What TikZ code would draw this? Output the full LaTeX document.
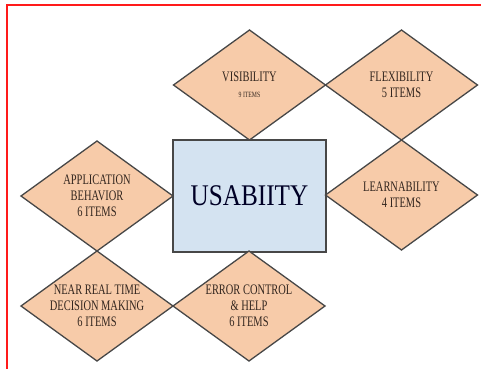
\documentclass[tikz,border=0pt]{standalone}
\usepackage{fontspec}
\setmainfont{Liberation Serif}[FakeStretch=0.72]
\newfontfamily\corefont{Liberation Serif}[FakeStretch=0.84]
\usepackage{tikz}
\usetikzlibrary{shapes.geometric}
\definecolor{peach}{HTML}{F7CBA9}
\definecolor{boxblue}{HTML}{D4E3F1}
\definecolor{edgegray}{HTML}{474747}
\definecolor{inkbrown}{HTML}{33261F}
\definecolor{framered}{HTML}{FF1A1A}
\tikzstyle{item}=[diamond, draw=edgegray, line width=1.3pt, fill=peach, aspect=1.38, minimum width=152pt, minimum height=110pt, inner sep=0pt, outer sep=0pt, align=center, text=inkbrown, font=\fontsize{14.5}{16}\selectfont]
\tikzstyle{core}=[rectangle, draw=edgegray, line width=2.5pt, fill=boxblue, minimum width=153pt, minimum height=112pt, outer sep=0pt, text=black!85!blue, font=\corefont\fontsize{30}{32}\selectfont]

\begin{document}
\begin{tikzpicture}[x=1pt,y=1pt]
\useasboundingbox (0,0) rectangle (481,-368);
\draw[framered, line width=1.3pt] (7,-5) rectangle (495,-385);

\node[core] (usab) at (249.5,-196) {USABIITY};

\node[item, anchor=south] (vis) at (usab.north) {VISIBILITY\\{\fontsize{8}{10}\selectfont 9 ITEMS}};
\node[item, anchor=west] (flex) at (vis.east) {FLEXIBILITY\\5 ITEMS};
\node[item, anchor=north] (learn) at (flex.south) {LEARNABILITY\\4 ITEMS};
\node[item, anchor=east] (app) at (usab.west) {APPLICATION\\BEHAVIOR\\6 ITEMS};
\node[item, anchor=north, inner xsep=-4pt] (near) at (app.south) {NEAR REAL TIME\\DECISION MAKING\\6 ITEMS};
\node[item, anchor=west] (err) at (near.east) {ERROR CONTROL\\\& HELP\\6 ITEMS};

\end{tikzpicture}
\end{document}
